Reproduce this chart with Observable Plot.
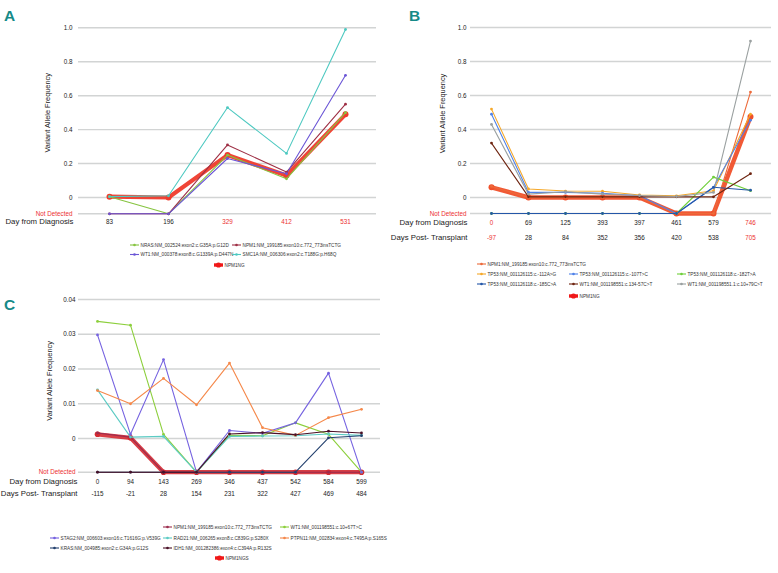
<!DOCTYPE html>
<html><head><meta charset="utf-8">
<script src="https://cdn.jsdelivr.net/npm/d3@7"></script>
<script src="https://cdn.jsdelivr.net/npm/@observablehq/plot@0.6"></script>
<style>
html,body{margin:0;padding:0;background:#fff;}
#root{position:relative;width:778px;height:573px;overflow:hidden;background:#fff;font-family:"Liberation Sans",Arial,sans-serif;}
#root svg{position:absolute;}
</style></head><body><div id="root"></div>
<script>
const ND = "ND"; // Not Detected

// ---------- Panel A ----------
const daysA = ["83","196","329","412","531"];
const highlightDaysA = ["329","412","531"];
const ticksA = [ND, 0, 0.2, 0.4, 0.6, 0.8, 1.0];
const seriesA = ["NRAS:NM_002524:exon2:c.G35A:p.G12D","NPM1:NM_199185:exon10:c.772_773insTCTG","WT1:NM_000378:exon8:c.G1339A:p.D447N","SMC1A:NM_006306:exon2:c.T188G:p.H68Q","NPM1NG"];
const nrasA   = [0.005, ND, 0.25, 0.11, 0.50];
const npm1A   = [ND, ND, 0.31, 0.15, 0.55];
const wt1A    = [ND, ND, 0.23, 0.14, 0.72];
const smc1aA  = [0.005, 0.01, 0.53, 0.26, 0.99];
const npm1ngA = [0.005, 0.0, 0.25, 0.13, 0.49];

// ---------- Panel B ----------
const daysB = ["0","69","125","393","397","461","579","746"];
const postB = ["-97","28","84","352","356","420","538","705"];
const highlightDaysB = ["0","746"];
const highlightPostB = ["-97","705"];
const ticksB = [ND, 0, 0.2, 0.4, 0.6, 0.8, 1.0];
const seriesB = ["NPM1:NM_199185:exon10:c.772_773insTCTG","TP53:NM_001126115:c.-112A>G","TP53:NM_001126115:c.-107T>C","TP53:NM_001126118:c.-182T>A","TP53:NM_001126118:c.-185C>A","WT1:NM_001198551:c.134-57C>T","WT1:NM_001198551.1:c.10+79C>T","NPM1NG"];
const npm1B     = [0.065, 0, 0, 0, 0, ND, ND, 0.62];
const tp53_112B = [0.52, 0.05, 0.038, 0.037, 0.015, 0.01, 0.04, 0.49];
const tp53_107B = [0.49, 0.03, 0.03, 0.025, 0.01, ND, 0.06, 0.455];
const tp53_182B = [ND, ND, ND, ND, ND, ND, 0.12, 0.04];
const tp53_185B = [ND, ND, ND, ND, ND, ND, 0.06, 0.043];
const wt1_134B  = [0.32, 0.004, 0.004, 0.004, 0.004, 0.004, 0.004, 0.14];
const wt1_10B   = [0.43, 0.02, 0.034, 0.02, 0.012, 0.006, 0.03, 0.92];
const npm1ngB   = [0.06, 0, 0, 0, 0, ND, ND, 0.475];

// ---------- Panel C ----------
const daysC = ["0","94","143","269","346","437","542","584","599"];
const postC = ["-115","-21","28","154","231","322","427","469","484"];
const ticksC = [ND, 0, 0.01, 0.02, 0.03, 0.04];
const seriesC = ["NPM1:NM_199185:exon10:c.772_773insTCTG","WT1:NM_001198551:c.10+67T>C","STAG2:NM_006603:exon16:c.T1616G:p.V539G","RAD21:NM_006265:exon8:c.C839G:p.S280X","PTPN11:NM_002834:exon4:c.T495A:p.S165S","KRAS:NM_004985:exon2:c.G34A:p.G12S","IDH1:NM_001282386:exon4:c.C394A:p.R132S","NPM1NGS"];
const npm1C   = [0.0016, 0.0004, ND, ND, ND, ND, ND, ND, ND];
const wt1C    = [0.0337, 0.0326, 0.0012, ND, 0.0009, 0.0008, 0.0045, 0.0012, ND];
const stag2C  = [0.0298, 0.0012, 0.0227, ND, 0.0023, 0.0015, 0.0045, 0.0188, ND];
const rad21C  = [0.014, 0.0004, 0.0006, ND, 0.0006, 0.0007, 0.0008, 0.0013, 0.0009];
const ptpn11C = [0.0138, 0.0100, 0.0173, 0.0097, 0.0217, 0.0031, 0.0009, 0.0060, 0.0084];
const krasC   = [ND, ND, ND, ND, ND, ND, ND, 0.0002, 0.0008];
const idh1C   = [ND, ND, ND, ND, 0.0013, 0.0017, 0.0011, 0.0021, 0.0016];
const npm1ngsC= [0.0012, 0.0002, ND, ND, ND, ND, ND, ND, ND];

// ---------- styling ----------
const RED = "#ec2f2f", INK = "#222", GRID = "#d2d4d4";
const FONT = "'Liberation Sans', Arial, sans-serif";
const colorsA = ["#86c440","#9e2f45","#6b56d6","#4ec9c1","#ef3b2c"];
const colorsB = ["#ec6a3a","#f5a829","#4f82e8","#6fcf3a","#2457a8","#6e2410","#9aa0a0","#f0502a"];
const colorsC = ["#9b2c4e","#8ccf3c","#7562e0","#5ccbc4","#f5884a","#23406e","#4a1026","#d42a32"];

const root = document.getElementById("root");

function rowsFor(days, names, values, nd) {
  const rows = [];
  names.forEach((name, s) => values[s].forEach((v, i) =>
    rows.push({series: name, day: days[i], v: v === ND ? nd : v})));
  return rows;
}

function panel(o) {
  const thickName = o.names[o.names.length - 1];
  const rows = rowsFor(o.days, o.names, o.values, o.nd);
  const thin = rows.filter(r => r.series !== thickName);
  const thick = rows.filter(r => r.series === thickName);
  const yv = t => t === ND ? o.nd : t;
  const marks = [
    Plot.ruleY(o.ticks, {y: yv, stroke: GRID, strokeWidth: 1.4}),
    Plot.line(thick, {x: "day", y: "v", stroke: o.colors[o.colors.length-1], strokeWidth: o.thickW, strokeOpacity: o.thickOpacity, strokeLinejoin: "round", strokeLinecap: "round"}),
    Plot.dot(thick, {x: "day", y: "v", fill: o.colors[o.colors.length-1], r: o.thickR}),
    Plot.line(thin, {x: "day", y: "v", z: "series", stroke: "series", strokeWidth: 1.1}),
    Plot.dot(thin, {x: "day", y: "v", fill: "series", r: 1.4}),
    // y tick labels
    Plot.text(o.ticks, {filter: t => t !== ND, y: yv, text: o.fmt, frameAnchor: "left", textAnchor: "end", dx: o.tickDx, fill: INK, fontSize: 6.3}),
    Plot.text(o.ticks, {filter: t => t === ND, y: yv, text: () => "Not Detected", frameAnchor: "left", textAnchor: "end", dx: o.tickDx, fill: RED, fontSize: 6.3}),
    // y title
    Plot.text(["Variant Allele Frequency"], {text: d => d, frameAnchor: "left", textAnchor: "middle", rotate: -90, dx: o.titleDx, dy: o.titleDy, fill: INK, fontSize: 7.4}),
    // x rows
    Plot.text(o.days, {filter: d => !o.hiDays.includes(d), x: d => d, text: d => d, frameAnchor: "bottom", dy: o.row1, fill: INK, fontSize: 6.3}),
    Plot.text(o.days, {filter: d => o.hiDays.includes(d), x: d => d, text: d => d, frameAnchor: "bottom", dy: o.row1, fill: RED, fontSize: 6.3}),
    Plot.text(["Day from Diagnosis"], {text: d => d, frameAnchor: "bottom-left", textAnchor: "end", dx: o.rowDx, dy: o.row1, fill: INK, fontSize: 7.8})
  ];
  if (o.post) {
    marks.push(
      Plot.text(o.post, {filter: d => !o.hiPost.includes(d), x: d => o.days[o.post.indexOf(d)], text: d => d, frameAnchor: "bottom", dy: o.row2, fill: INK, fontSize: 6.3}),
      Plot.text(o.post, {filter: d => o.hiPost.includes(d), x: d => o.days[o.post.indexOf(d)], text: d => d, frameAnchor: "bottom", dy: o.row2, fill: RED, fontSize: 6.3}),
      Plot.text(["Days Post- Transplant"], {text: d => d, frameAnchor: "bottom-left", textAnchor: "end", dx: o.rowDx, dy: o.row2, fill: INK, fontSize: 7.8})
    );
  }
  const svg = Plot.plot({
    width: o.width, height: o.height,
    marginTop: o.mt, marginBottom: o.mb, marginLeft: o.ml, marginRight: o.mr,
    x: {type: "point", domain: o.days, padding: 0.5, axis: null},
    y: {domain: [o.nd, o.ticks[o.ticks.length-1]], axis: null},
    color: {domain: o.names, range: o.colors},
    style: {fontFamily: FONT, background: "transparent", overflow: "visible"},
    marks
  });
  svg.style.left = o.left + "px";
  svg.style.top = o.top + "px";
  root.appendChild(svg);
}

panel({left: 0, top: 0, width: 390, height: 280, mt: 27.3, mb: 66.7, ml: 78, mr: 14,
  days: daysA, hiDays: highlightDaysA, ticks: ticksA, nd: -0.096, fmt: t => t === 0 ? "0" : d3.format(".1f")(t),
  names: seriesA, values: [nrasA, npm1A, wt1A, smc1aA, npm1ngA], colors: colorsA,
  thickW: 4.2, thickR: 3, thickOpacity: 0.95, tickDx: -6, titleDx: -31, titleDy: -8, row1: 10, rowDx: -5});

panel({left: 390, top: 0, width: 388, height: 280, mt: 27, mb: 67, ml: 80, mr: 7,
  days: daysB, post: postB, hiDays: highlightDaysB, hiPost: highlightPostB, ticks: ticksB, nd: -0.094, fmt: t => t === 0 ? "0" : d3.format(".1f")(t),
  names: seriesB, values: [npm1B, tp53_112B, tp53_107B, tp53_182B, tp53_185B, wt1_134B, wt1_10B, npm1ngB], colors: colorsB,
  thickW: 4.5, thickR: 3, thickOpacity: 0.95, tickDx: -4, titleDx: -28, titleDy: -7, row1: 11, row2: 26, rowDx: -3});

panel({left: 0, top: 280, width: 390, height: 230, mt: 19, mb: 38.3, ml: 78, mr: 10,
  days: daysC, post: postC, hiDays: [], hiPost: [], ticks: ticksC, nd: -0.0097, fmt: t => t === 0 ? "0" : d3.format(".2f")(t),
  names: seriesC, values: [npm1C, wt1C, stag2C, rad21C, ptpn11C, krasC, idh1C, npm1ngsC], colors: colorsC,
  thickW: 4.2, thickR: 2.8, thickOpacity: 0.9, tickDx: -3, titleDx: -29, titleDy: -5, row1: 11.5, row2: 24, rowDx: -1});

// ---------- legends and panel letters ----------
const legendLayoutA = [[130,245],[232,245],[130,254.5],[232,254.5],[214,265]];
const legendLayoutB = [[477,264],[477,274],[569,274],[677,274],[477,284],[569,284],[677,284],[569,296]];
const legendLayoutC = [[163,527],[280,527],[50,538],[163,538],[280,538],[50,548],[163,548],[215,558]];

const ov = d3.select(root).append("svg").attr("width", 778).attr("height", 573)
  .style("left", "0px").style("top", "0px").style("font-family", FONT);

function legend(names, colors, layout) {
  names.forEach((name, i) => {
    const [x, y] = layout[i];
    const thick = i === names.length - 1;
    const g = ov.append("g");
    g.append("line").attr("x1", x).attr("x2", x + 9).attr("y1", y).attr("y2", y)
      .attr("stroke", thick ? "#f01818" : colors[i]).attr("stroke-width", thick ? 3.4 : 1.1);
    g.append("circle").attr("cx", x + 4.5).attr("cy", y).attr("r", thick ? 2.6 : 1.3)
      .attr("fill", thick ? "#f01818" : colors[i]);
    g.append("text").attr("x", x + 10.5).attr("y", y).attr("dy", "0.35em")
      .attr("font-size", 4.7).attr("fill", "#333").text(name);
  });
}
legend(seriesA, colorsA, legendLayoutA);
legend(seriesB, colorsB, legendLayoutB);
legend(seriesC, colorsC, legendLayoutC);

const letters = [["A", 4, 21], ["B", 409, 21], ["C", 4, 310]];
letters.forEach(([t, x, y]) => ov.append("text").attr("x", x).attr("y", y).text(t)
  .attr("font-size", 15.5).attr("font-weight", "bold").attr("fill", "#168a88")
  .attr("font-family", "'Liberation Sans Narrow', 'Liberation Sans', Arial, sans-serif"));
</script></body></html>
